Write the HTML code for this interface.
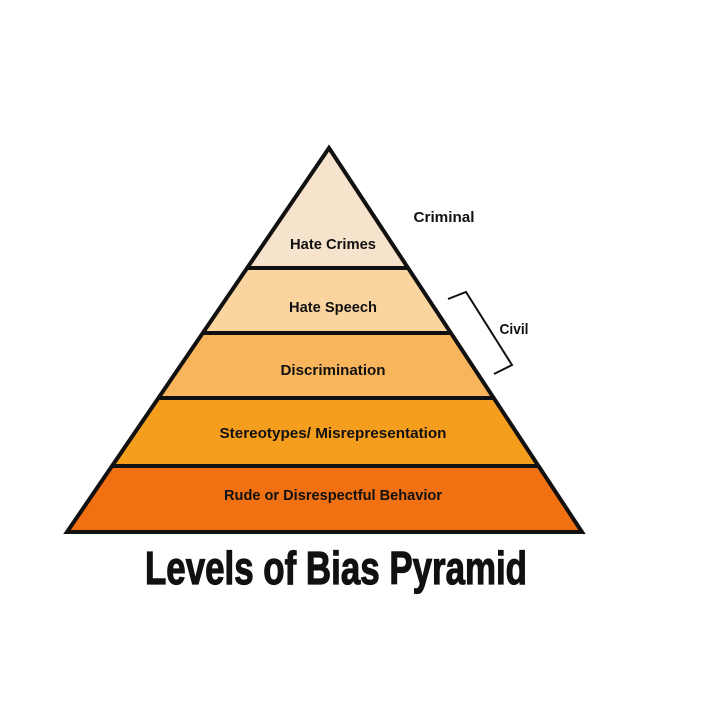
<!DOCTYPE html>
<html><head><style>
html,body{margin:0;padding:0;background:#fff;}
svg text{font-family:"Liberation Sans Narrow","Liberation Sans",sans-serif;font-weight:bold;fill:#111;}
</style></head><body>
<svg width="712" height="712" viewBox="0 0 712 712" xmlns="http://www.w3.org/2000/svg">
<defs><clipPath id="tri"><polygon points="329,148 67,532 582,532"/></clipPath></defs>
<g clip-path="url(#tri)">
<rect x="0" y="140" width="712" height="128" fill="#f7e3cb"/>
<rect x="0" y="268" width="712" height="65" fill="#fbd5a0"/>
<rect x="0" y="333" width="712" height="65" fill="#f9b55c"/>
<rect x="0" y="398" width="712" height="68" fill="#f59e1d"/>
<rect x="0" y="466" width="712" height="70" fill="#f07012"/>
<g stroke="#111" stroke-width="4">
<line x1="0" y1="268" x2="712" y2="268"/>
<line x1="0" y1="333" x2="712" y2="333"/>
<line x1="0" y1="398" x2="712" y2="398"/>
<line x1="0" y1="466" x2="712" y2="466"/>
</g>
</g>
<polygon points="329,148 67,532 582,532" fill="none" stroke="#111" stroke-width="4" stroke-linejoin="miter"/>
<polyline points="448,299 466,292 512,365 494,374" fill="none" stroke="#111" stroke-width="2"/>
<g font-size="15" text-anchor="middle" lengthAdjust="spacingAndGlyphs">
<text x="333" y="249" textLength="86" lengthAdjust="spacingAndGlyphs">Hate Crimes</text>
<text x="333" y="312" textLength="88" lengthAdjust="spacingAndGlyphs">Hate Speech</text>
<text x="333" y="375" textLength="105" lengthAdjust="spacingAndGlyphs">Discrimination</text>
<text x="333" y="438" textLength="227" lengthAdjust="spacingAndGlyphs">Stereotypes/ Misrepresentation</text>
<text x="333" y="500" textLength="218" lengthAdjust="spacingAndGlyphs">Rude or Disrespectful Behavior</text>
<text x="444" y="222" textLength="61" lengthAdjust="spacingAndGlyphs">Criminal</text>
<text x="514" y="334" textLength="29" lengthAdjust="spacingAndGlyphs">Civil</text>
</g>
<text x="336" y="584" font-size="46" text-anchor="middle" textLength="382" lengthAdjust="spacingAndGlyphs" stroke="#111" stroke-width="1.2">Levels of Bias Pyramid</text>
</svg>
</body></html>
